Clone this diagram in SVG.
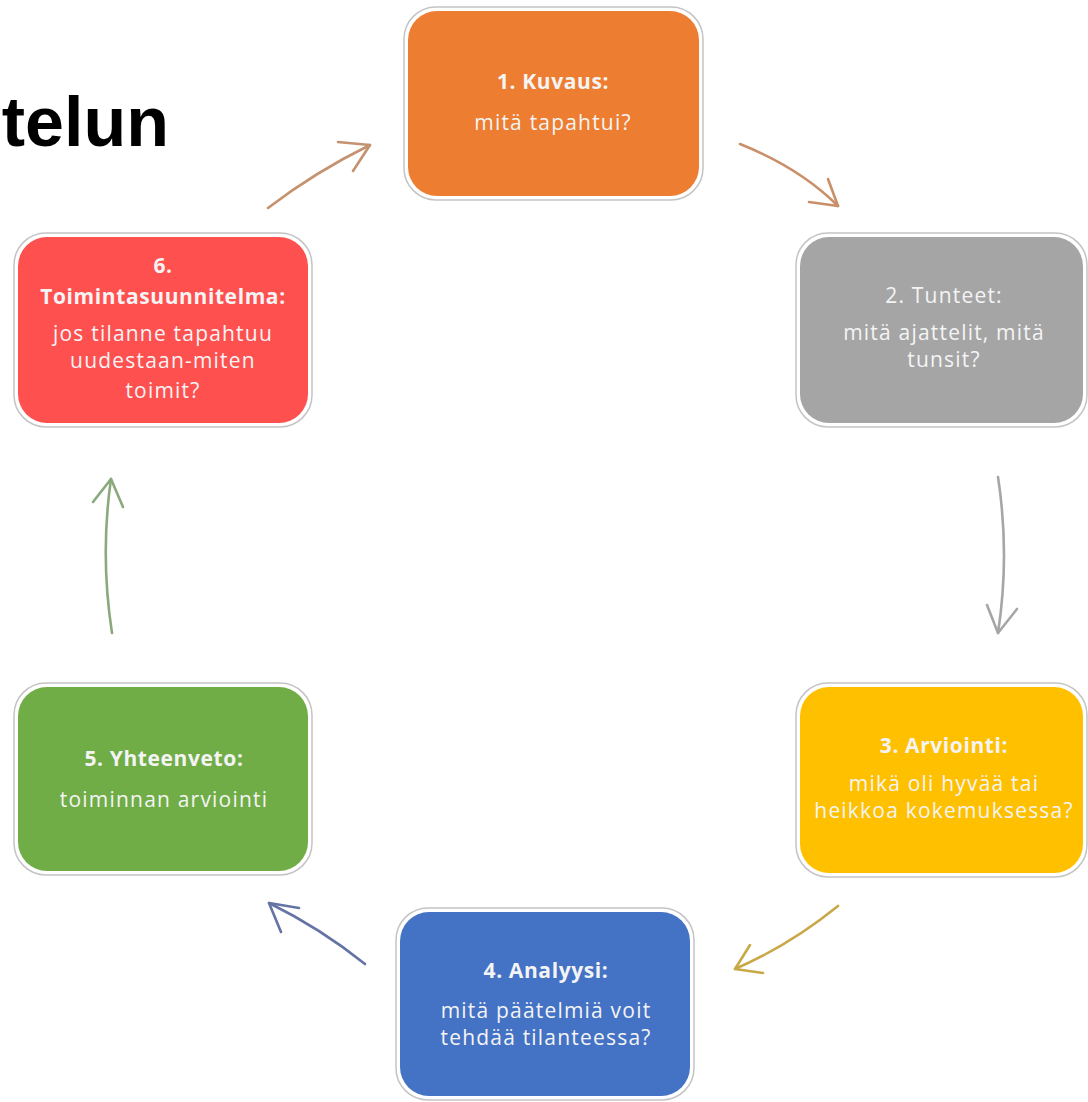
<svg xmlns="http://www.w3.org/2000/svg" width="1088" height="1102" viewBox="0 0 1088 1102">
<style>
.frame{fill:#ffffff;stroke:#c4c4c4;stroke-width:1.5}
.t{font-family:"Open Sans","Liberation Sans",sans-serif;font-size:21px;fill:#f4f4f4;text-anchor:middle;letter-spacing:1.2px}
.b{font-weight:bold;letter-spacing:0.6px}
.arr{fill:none;stroke-width:2.6;stroke-linecap:round;stroke-linejoin:round}
</style>
<rect width="1088" height="1102" fill="#ffffff"/>
<text x="169" y="146" font-family="Liberation Sans, Arial, sans-serif" font-weight="bold" font-size="70" fill="#000000" text-anchor="end">telun</text>

<g id="connectors">
  <g class="arr" stroke="#c4926e">
    <path d="M268,208 Q315,172 370,145"/>
    <path d="M338,142 L370,145 L353,171"/>
  </g>
  <g class="arr" stroke="#c98f68">
    <path d="M740,144 Q800,168 838,206"/>
    <path d="M809,202 L838,206 L828,179"/>
  </g>
  <g class="arr" stroke="#a6a6a6">
    <path d="M998,477 Q1010,555 998,633"/>
    <path d="M987,605 L998,633 L1017,609"/>
  </g>
  <g class="arr" stroke="#c9a84a">
    <path d="M838,906 Q790,945 735,969"/>
    <path d="M750,945 L735,969 L763,973"/>
  </g>
  <g class="arr" stroke="#6474a4">
    <path d="M365,964 Q320,928 269,903"/>
    <path d="M299,908 L269,903 L281,932"/>
  </g>
  <g class="arr" stroke="#8aa97c">
    <path d="M112,633 Q100,555 111,479"/>
    <path d="M93,502 L111,479 L123,507"/>
  </g>
</g>

<g id="node1">
  <rect class="frame" x="404" y="7" width="299" height="193" rx="32"/>
  <rect x="408" y="11" width="291" height="185" rx="29" fill="#ed7d31"/>
  <text class="t b" x="553" y="89">1. Kuvaus:</text>
  <text class="t" x="553" y="130">mitä tapahtui?</text>
</g>

<g id="node2">
  <rect class="frame" x="796" y="233" width="291" height="194" rx="32"/>
  <rect x="800" y="237" width="283" height="186" rx="29" fill="#a5a5a5"/>
  <text class="t" x="944" y="303">2. Tunteet:</text>
  <text class="t" x="944" y="340">mitä ajattelit, mitä</text>
  <text class="t" x="944" y="367">tunsit?</text>
</g>

<g id="node3">
  <rect class="frame" x="796" y="683" width="291" height="194" rx="32"/>
  <rect x="800" y="687" width="283" height="186" rx="29" fill="#ffc000"/>
  <text class="t b" x="944" y="753">3. Arviointi:</text>
  <text class="t" x="944" y="791">mikä oli hyvää tai</text>
  <text class="t" x="944" y="818">heikkoa kokemuksessa?</text>
</g>

<g id="node4">
  <rect class="frame" x="396" y="908" width="298" height="192" rx="32"/>
  <rect x="400" y="912" width="290" height="184" rx="29" fill="#4472c4"/>
  <text class="t b" x="546" y="978">4. Analyysi:</text>
  <text class="t" x="546" y="1018">mitä päätelmiä voit</text>
  <text class="t" x="546" y="1045">tehdää tilanteessa?</text>
</g>

<g id="node5">
  <rect class="frame" x="14" y="683" width="298" height="192" rx="32"/>
  <rect x="18" y="687" width="290" height="184" rx="29" fill="#70ad47"/>
  <text class="t b" x="164" y="766">5. Yhteenveto:</text>
  <text class="t" x="164" y="807">toiminnan arviointi</text>
</g>

<g id="node6">
  <rect class="frame" x="14" y="233" width="298" height="194" rx="32"/>
  <rect x="18" y="237" width="290" height="186" rx="29" fill="#ff5050"/>
  <text class="t b" x="163" y="273">6.</text>
  <text class="t b" x="163" y="304">Toimintasuunnitelma:</text>
  <text class="t" x="163" y="341">jos tilanne tapahtuu</text>
  <text class="t" x="163" y="368">uudestaan-miten</text>
  <text class="t" x="163" y="398">toimit?</text>
</g>
</svg>
